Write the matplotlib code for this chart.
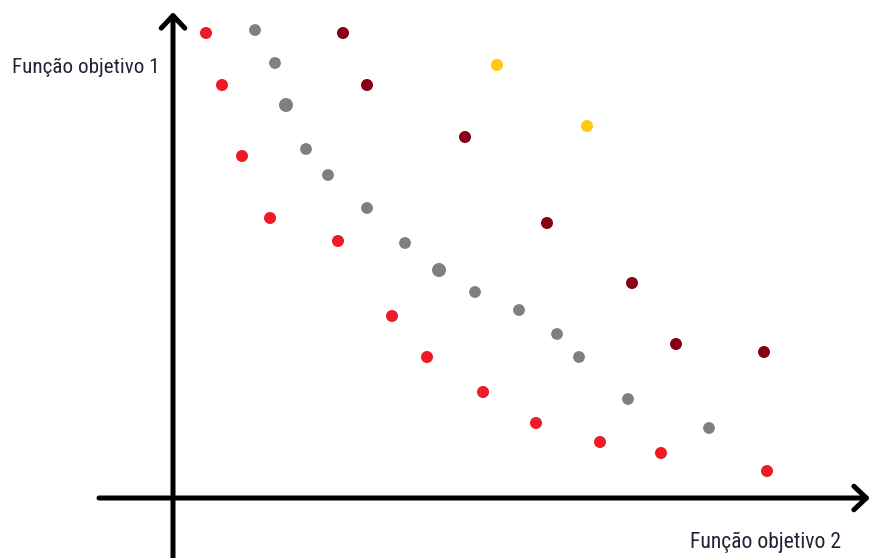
import matplotlib
matplotlib.use("Agg")
import matplotlib.pyplot as plt
from matplotlib import font_manager as fm

# pontos (obj2 = eixo horizontal, obj1 = eixo vertical)
red_f2 = [33, 49, 69, 97, 165, 219, 254, 310, 363, 427, 488, 594]
red_f1 = [465, 413, 342, 280, 257, 182, 141, 106, 75, 56, 45, 27]

gray_f2 = [82, 102, 113, 133, 155, 194, 232, 266, 302, 346, 384, 406, 455, 536]
gray_f1 = [468, 435, 393, 349, 323, 290, 255, 228, 206, 188, 164, 141, 99, 70]
gray_big = [0, 0, 1, 0, 0, 0, 0, 1, 0, 0, 0, 0, 0, 0]

dark_f2 = [170, 194, 292, 374, 459, 503, 591]
dark_f1 = [465, 413, 361, 275, 215, 154, 146]

gold_f2 = [324, 414]
gold_f1 = [433, 372]

label_y = "Função objetivo 1"
label_x = "Função objetivo 2"

RED = "#ed1c24"
GRAY = "#7f7f7f"
DARK = "#880015"
GOLD = "#ffc90e"
TXT = "#1f2536"

# fonte estreita, se houver
names = {f.name for f in fm.fontManager.ttflist}
font = "DejaVu Sans"
for cand in ["Roboto Condensed", "Liberation Sans Narrow", "DejaVu Sans Condensed",
             "Open Sans Condensed", "Noto Sans Display"]:
    if cand in names:
        font = cand
        break

fig = plt.figure(figsize=(8.7, 5.58), dpi=100)
ax = fig.add_axes([0, 0, 1, 1])
ax.set_xlim(-173, 697)
ax.set_ylim(-60, 498)
ax.axis("off")

# eixos com setas
arrow = dict(arrowstyle="->,head_length=0.9,head_width=0.85", lw=3.6,
             color="black", shrinkA=0, shrinkB=0, mutation_scale=10)
ax.annotate("", xy=(697, 0), xytext=(-74, 0), arrowprops=arrow)
ax.annotate("", xy=(0, 486), xytext=(0, -60), arrowprops=arrow)

ax.scatter(red_f2, red_f1, s=75, color=RED, edgecolors="none", zorder=3)
ax.scatter(gray_f2, gray_f1, s=[101 if b else 72 for b in gray_big],
           color=GRAY, edgecolors="none", zorder=3)
ax.scatter(dark_f2, dark_f1, s=75, color=DARK, edgecolors="none", zorder=3)
ax.scatter(gold_f2, gold_f1, s=75, color=GOLD, edgecolors="none", zorder=3)

t1 = ax.text(-161, 425, label_y, fontsize=17, family=font, color=TXT,
             ha="left", va="baseline")
t2 = ax.text(517, -50, label_x, fontsize=17, family=font, color=TXT,
             ha="left", va="baseline")

# ajusta o tamanho para a largura do texto original (~150 px)
fig.canvas.draw()
r = fig.canvas.get_renderer()
for t, w in [(t1, 148), (t2, 151)]:
    bw = t.get_window_extent(r).width
    t.set_fontsize(t.get_fontsize() * w / bw)

fig.savefig("out.png", dpi=100)
